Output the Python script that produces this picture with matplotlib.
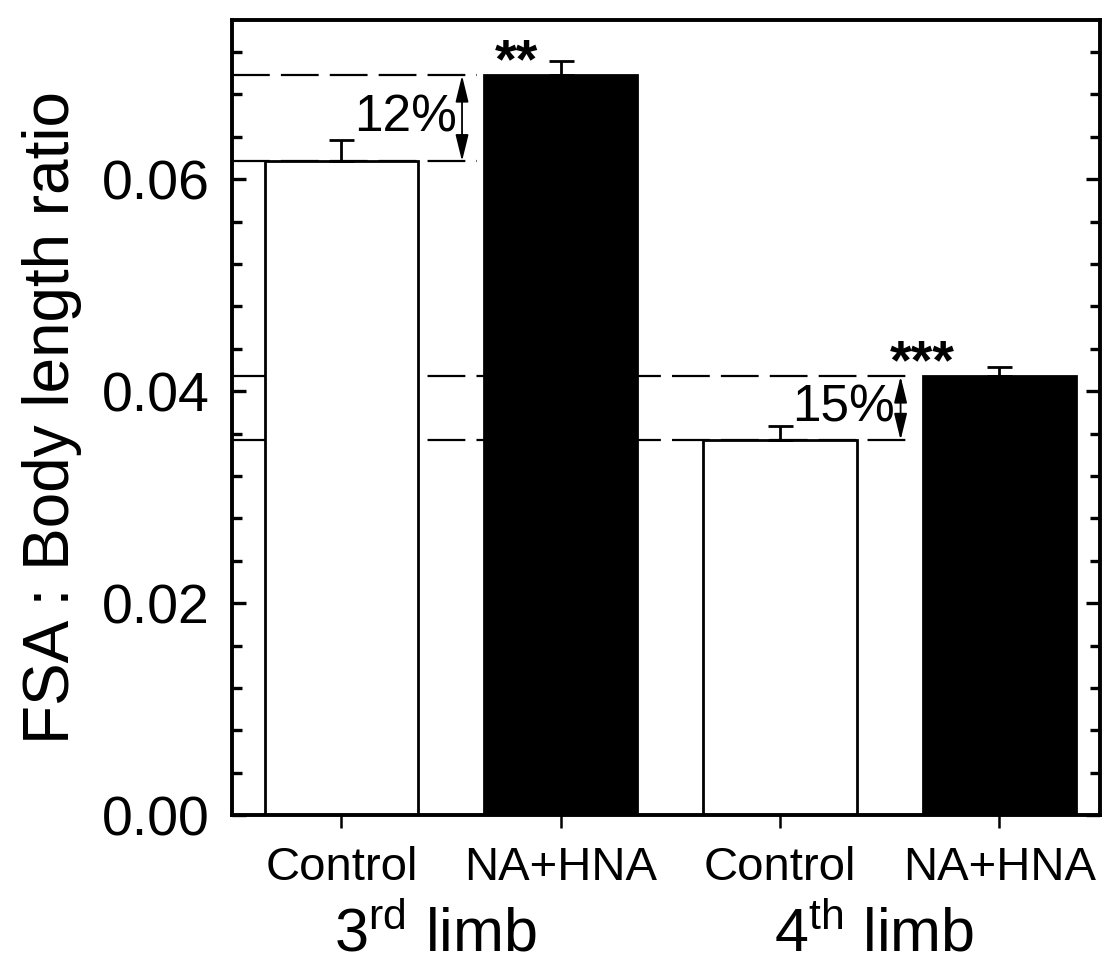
import matplotlib
matplotlib.use("Agg")
import matplotlib.pyplot as plt
from matplotlib.ticker import MultipleLocator, FormatStrFormatter
from matplotlib.patches import ArrowStyle

plt.rcParams['font.family'] = ['Liberation Sans', 'DejaVu Sans']
plt.rcParams['mathtext.fontset'] = 'custom'
plt.rcParams['mathtext.rm'] = 'Liberation Sans'
plt.rcParams['mathtext.it'] = 'Liberation Sans'

# Data
groups = ["3$^{rd}$ limb", "4$^{th}$ limb"]
treatments = ["Control", "NA+HNA", "Control", "NA+HNA"]
ratio_means = [0.0617, 0.0698, 0.0354, 0.0414]
ratio_sem = [0.0020, 0.0014, 0.0013, 0.0009]
bar_colors = ["white", "black", "white", "black"]
significance = ["", "**", "", "***"]
sig_offsets = [0.0, -0.2, 0.0, -0.35]
percent_labels = ["12%", "15%"]

fig = plt.figure(figsize=(11.09, 9.67), dpi=100)
ax = fig.add_axes([0.209, 0.157, 0.783, 0.822])

x = list(range(len(treatments)))
width = 0.70

# Reference lines linking control and treatment bar heights
for g, lab in enumerate(percent_labels):
    lo, hi = ratio_means[2 * g], ratio_means[2 * g + 1]
    x_arrow = 2 * g + 0.55
    for level in (lo, hi):
        ax.plot([-0.5, x_arrow + 0.07], [level, level], color="black",
                lw=1.6, linestyle=(0, (17, 5)), zorder=1)
    ax.annotate("", xy=(x_arrow, hi), xytext=(x_arrow, lo),
                arrowprops=dict(arrowstyle=ArrowStyle("<|-|>", head_length=0.9, head_width=0.22),
                                lw=1.3, color="black", shrinkA=0, shrinkB=0,
                                mutation_scale=18), zorder=3)
    ax.text(x_arrow - 0.025, (lo + hi) / 2, lab, ha="right", va="center",
            fontsize=37, zorder=4)

ax.bar(x, ratio_means, width=width, color=bar_colors, edgecolor="black",
       linewidth=2.0, zorder=2)
ax.errorbar(x, ratio_means, yerr=[[0] * len(x), ratio_sem], fmt="none",
            ecolor="black", elinewidth=2.0, capsize=9, capthick=2.0, zorder=3)

for xi, m, s, off in zip(x, ratio_means, significance, sig_offsets):
    if s:
        ax.text(xi + off, m - 0.0002, s, ha="center", va="baseline",
                fontsize=40, fontweight="bold", zorder=4)

ax.set_xlim(-0.5, 3.46)
ax.set_ylim(0, 0.075)

ax.yaxis.set_major_locator(MultipleLocator(0.02))
ax.yaxis.set_minor_locator(MultipleLocator(0.004))
ax.yaxis.set_major_formatter(FormatStrFormatter("%.2f"))
ax.tick_params(axis="y", which="both", direction="in", left=True, right=True,
               labelsize=40, pad=16, width=2.4)
ax.tick_params(axis="y", which="major", length=10)
ax.tick_params(axis="y", which="minor", length=7)

ax.set_xticks(x)
ax.set_xticklabels(treatments)
ax.tick_params(axis="x", direction="out", length=9, width=1.8, labelsize=34,
               pad=13, top=False)

for sp in ax.spines.values():
    sp.set_linewidth(2.8)

ax.set_ylabel("FSA : Body length ratio", fontsize=46)
ax.yaxis.set_label_coords(-0.172, 0.5)

for g, name in enumerate(groups):
    ax.text(2 * g + 0.43, -0.171, name, transform=ax.get_xaxis_transform(),
            ha="center", va="baseline", fontsize=44)

fig.savefig("out.png", dpi=100)
